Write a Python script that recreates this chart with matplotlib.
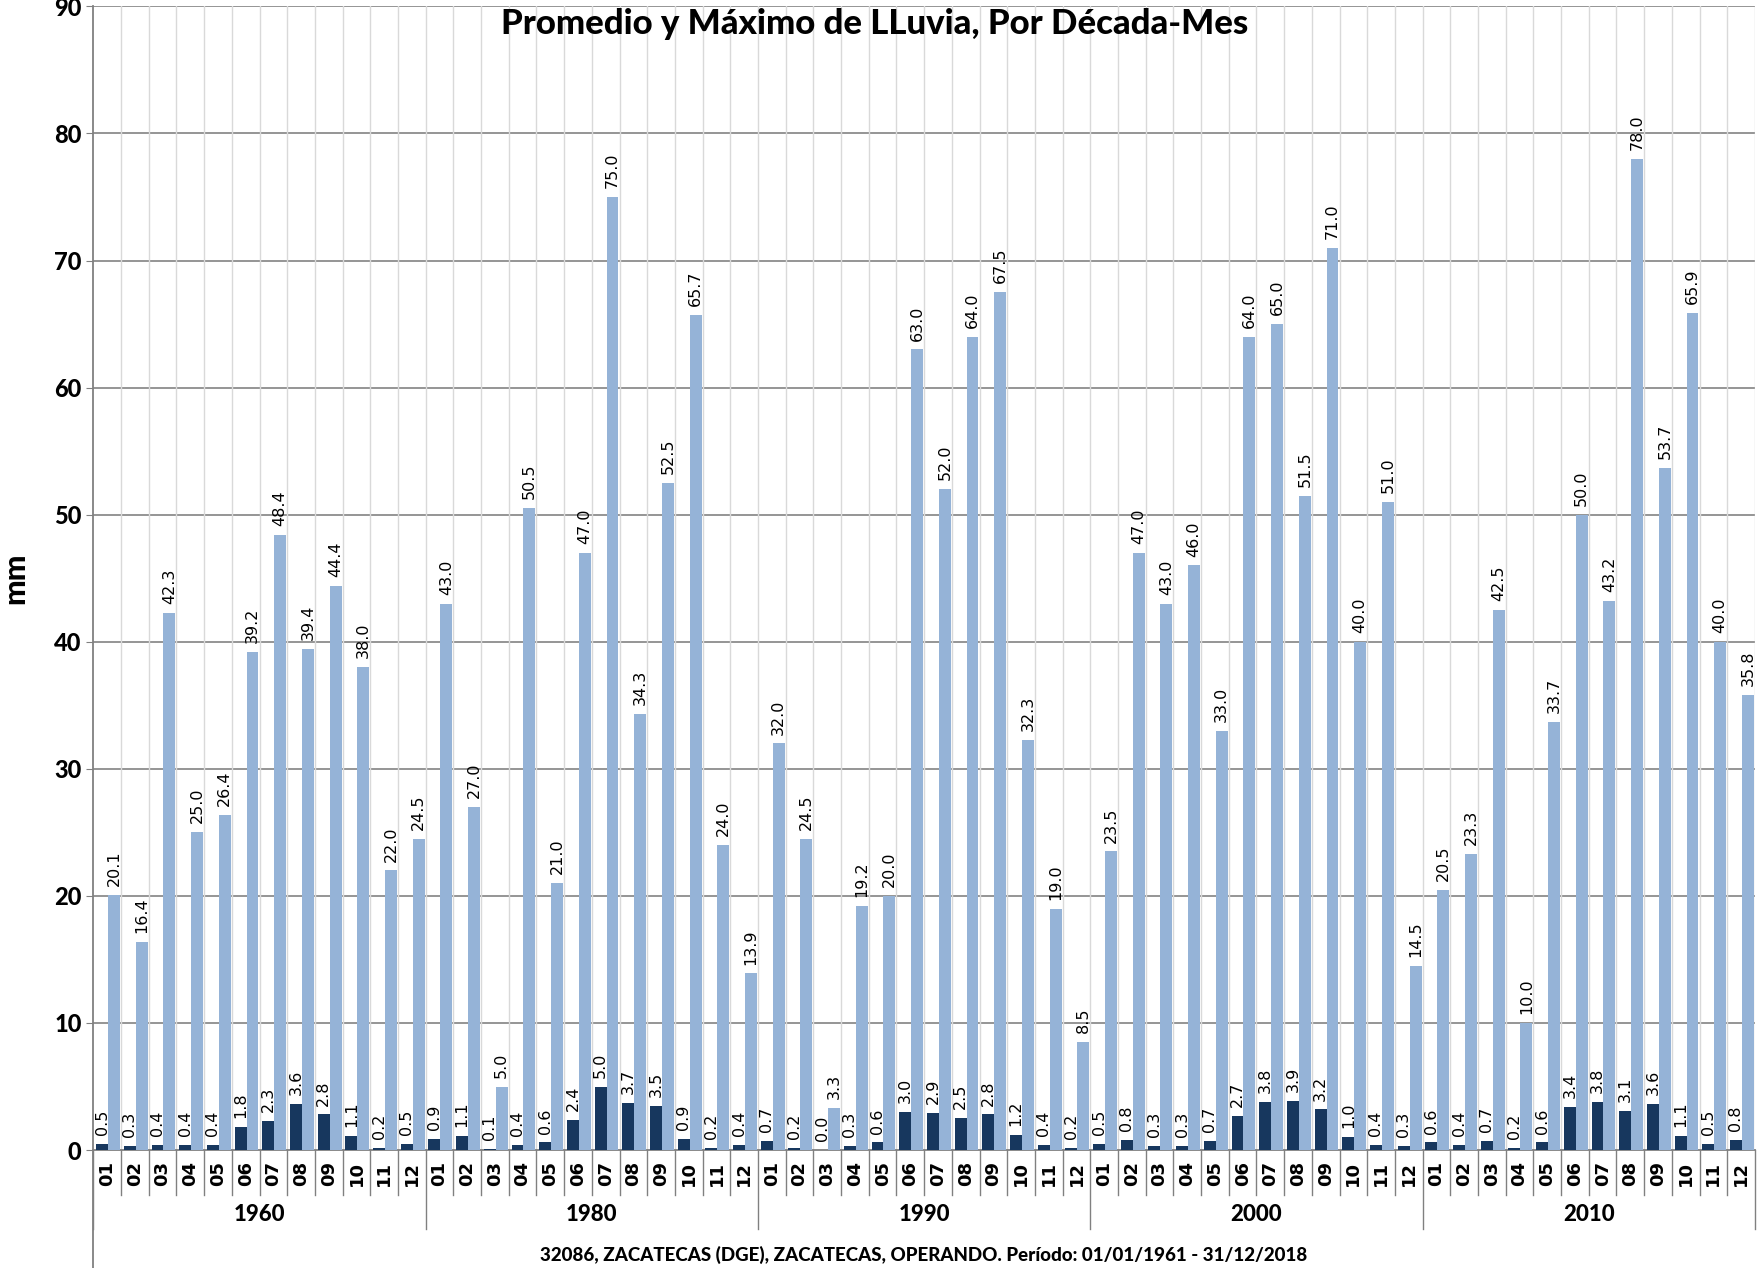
import numpy as np
import matplotlib
matplotlib.use("Agg")
import matplotlib.pyplot as plt

plt.rcParams['font.family'] = ['Lato', 'DejaVu Sans']

# Data
decades = ['1960', '1980', '1990', '2000', '2010']
months = ['01', '02', '03', '04', '05', '06', '07', '08', '09', '10', '11', '12']

promedio_1960 = [0.5, 0.3, 0.4, 0.4, 0.4, 1.8, 2.3, 3.6, 2.8, 1.1, 0.2, 0.5]
promedio_1980 = [0.9, 1.1, 0.1, 0.4, 0.6, 2.4, 5.0, 3.7, 3.5, 0.9, 0.2, 0.4]
promedio_1990 = [0.7, 0.2, 0.0, 0.3, 0.6, 3.0, 2.9, 2.5, 2.8, 1.2, 0.4, 0.2]
promedio_2000 = [0.5, 0.8, 0.3, 0.3, 0.7, 2.7, 3.8, 3.9, 3.2, 1.0, 0.4, 0.3]
promedio_2010 = [0.6, 0.4, 0.7, 0.2, 0.6, 3.4, 3.8, 3.1, 3.6, 1.1, 0.5, 0.8]

maximo_1960 = [20.1, 16.4, 42.3, 25.0, 26.4, 39.2, 48.4, 39.4, 44.4, 38.0, 22.0, 24.5]
maximo_1980 = [43.0, 27.0, 5.0, 50.5, 21.0, 47.0, 75.0, 34.3, 52.5, 65.7, 24.0, 13.9]
maximo_1990 = [32.0, 24.5, 3.3, 19.2, 20.0, 63.0, 52.0, 64.0, 67.5, 32.3, 19.0, 8.5]
maximo_2000 = [23.5, 47.0, 43.0, 46.0, 33.0, 64.0, 65.0, 51.5, 71.0, 40.0, 51.0, 14.5]
maximo_2010 = [20.5, 23.3, 42.5, 10.0, 33.7, 50.0, 43.2, 78.0, 53.7, 65.9, 40.0, 35.8]

promedio = promedio_1960 + promedio_1980 + promedio_1990 + promedio_2000 + promedio_2010
maximo = maximo_1960 + maximo_1980 + maximo_1990 + maximo_2000 + maximo_2010

dark = '#17375E'
light = '#95B3D7'

fig = plt.figure(figsize=(17.62, 12.68), dpi=100)
ax = fig.add_axes([0.053, 0.093, 0.943, 0.902])

n = len(promedio)
x = np.arange(n)
w = 0.43
b1 = ax.bar(x - w / 2 + 0.03, promedio, width=w, color=dark, zorder=3)
b2 = ax.bar(x + w / 2 + 0.03, maximo, width=w, color=light, zorder=3)

for bars in (b1, b2):
    for r in bars:
        h = r.get_height()
        ax.text(r.get_x() + r.get_width() / 2, h + 0.7, f'{h:.1f}',
                rotation=90, ha='center', va='bottom', fontsize=11.5,
                family='DejaVu Sans', zorder=4)

ax.set_xlim(-0.5, n - 0.5)
ax.set_ylim(0, 90)
ax.set_yticks(range(0, 91, 10))
ax.tick_params(axis='y', labelsize=17, length=5, color='#808080')
for lbl in ax.get_yticklabels():
    lbl.set_fontweight('black')
ax.set_xticks([])

# gridlines
for y in range(10, 91, 10):
    ax.axhline(y, color='#8C8C8C', lw=1.3, zorder=1)
for k in range(n):
    ax.axvline(k + 0.5, color='#D9D9D9', lw=1, zorder=1)

for s in ['top', 'right']:
    ax.spines[s].set_visible(False)
ax.spines['left'].set_color('#808080')
ax.spines['bottom'].set_color('#808080')
ax.spines['left'].set_linewidth(1.3)
ax.spines['bottom'].set_linewidth(1.3)

# hierarchical category axis
trans = ax.get_xaxis_transform()
for k in range(n):
    ax.text(k, -0.0205, months[k % 12], transform=trans, rotation=90,
            ha='center', va='center', fontsize=13, fontweight='bold',
            family='DejaVu Sans')
    if (k + 1) % 12 != 0:
        ax.plot([k + 0.5, k + 0.5], [0, -0.039], transform=trans,
                color='#808080', lw=1, clip_on=False)
for d in range(len(decades) + 1):
    xs = d * 12 - 0.5
    ax.plot([xs, xs], [0, -0.069], transform=trans, color='#808080',
            lw=1, clip_on=False)
for d, name in enumerate(decades):
    ax.text(d * 12 + 5.5, -0.056, name, transform=trans, ha='center',
            va='center', fontsize=16, fontweight='black')
ax.plot([-0.5, -0.5], [0, -0.12], transform=trans, color='#808080',
        lw=1.3, clip_on=False)

ax.set_ylabel('mm', fontsize=22, fontweight='black', labelpad=18)
fig.text(0.4965, 0.981, 'Promedio y Máximo de LLuvia, Por Década-Mes',
         ha='center', va='center', fontsize=25, fontweight='black')
fig.text(0.524, 0.010,
         '32086, ZACATECAS (DGE), ZACATECAS, OPERANDO. Período: 01/01/1961 - 31/12/2018',
         ha='center', va='center', fontsize=13.5, fontweight='black')

fig.savefig('out.png', dpi=100)
